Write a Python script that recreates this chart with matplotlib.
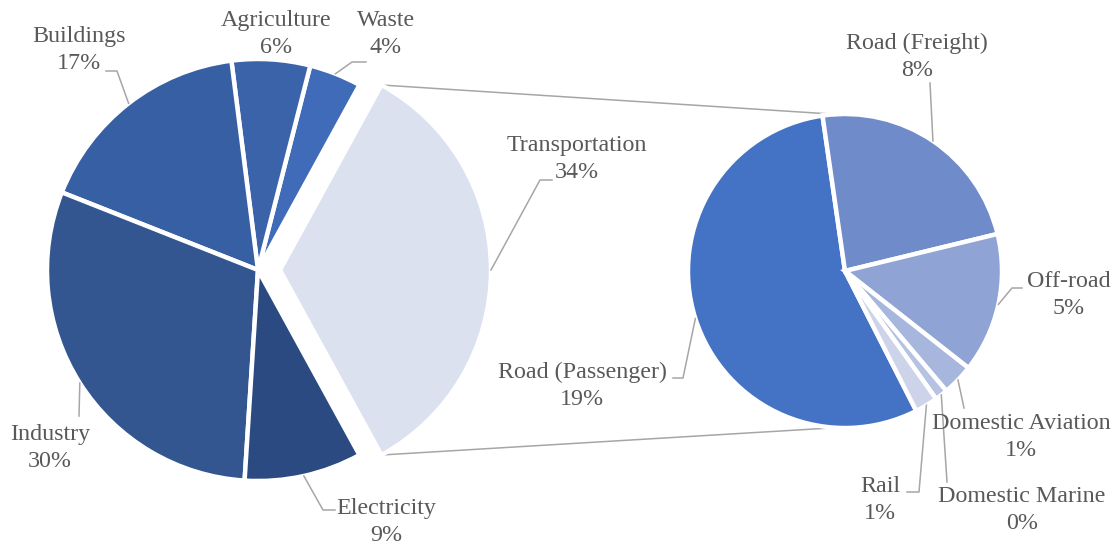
import numpy as np
import matplotlib.pyplot as plt

# main sectors (share of total emissions, %)
sectors = ["Transportation", "Waste", "Agriculture", "Buildings", "Industry", "Electricity"]
# transportation breakdown (share of total, %)
sub_names = ["Road (Passenger)", "Road (Freight)", "Off-road",
             "Domestic Aviation", "Domestic Marine", "Rail"]
sub_values = [18.8, 8.0, 4.9, 1.1, 0.45, 0.8]
sector_values = [sum(sub_values), 4, 6, 17, 30, 9]

sector_colors = ["#dce1f0", "#3f6bb9", "#3a63aa", "#375fa3", "#335690", "#2b4a81"]
sub_colors = ["#4472c4", "#6f8bca", "#8fa3d4", "#a7b6dc", "#b5c2e2", "#cdd4ea"]

W, H = 1115, 545
TXT = "#595959"
LINE = "#a6a6a6"


def px(x, y):
    # pixel coords measured from the top-left
    return x, H - y


fig = plt.figure(figsize=(W / 100, H / 100), dpi=100)
ax = fig.add_axes([0, 0, 1, 1])

r1, c1 = 211, px(258, 270)
r2, c2 = 157, px(845, 271)

total = sum(sector_values)
start1 = -sector_values[0] / total * 180
w1, _ = ax.pie(sector_values, radius=r1, center=c1, startangle=start1,
               colors=sector_colors, explode=[22, 0, 0, 0, 0, 0],
               wedgeprops=dict(edgecolor="white", linewidth=3.2), frame=True)
w2, _ = ax.pie(sub_values, radius=r2, center=c2, startangle=-63,
               counterclock=False, colors=sub_colors,
               wedgeprops=dict(edgecolor="white", linewidth=3.2), frame=True)
ax.set_xlim(0, W)
ax.set_ylim(0, H)
ax.set_aspect("equal")
ax.axis("off")


def edge_point(w):
    t = np.deg2rad((w.theta1 + w.theta2) / 2)
    cx, cy = w.center
    return cx + w.r * np.cos(t), cy + w.r * np.sin(t)


def corner(w, ang):
    t = np.deg2rad(ang)
    cx, cy = w.center
    return cx + w.r * np.cos(t), cy + w.r * np.sin(t)


# connector lines between the split slice and the second pie
tw = w1[0]
top = corner(tw, tw.theta2)
bot = corner(tw, tw.theta1)
for p, a in [(top, 93.5), (bot, -93.5)]:
    t = np.deg2rad(a)
    q = (c2[0] + r2 * np.cos(t), c2[1] + r2 * np.sin(t))
    ax.plot([p[0], q[0]], [p[1], q[1]], color=LINE, lw=1.1, zorder=0)

# label text positions and leader elbows (pixel coords from top-left)
sector_labels = {
    "Transportation": ((577, 159), [(552, 180), (540, 180)]),
    "Waste": ((386, 34), [(366, 62), (352, 62)]),
    "Agriculture": ((276, 34), None),
    "Buildings": ((79, 50), [(106, 71), (117, 71)]),
    "Industry": ((50, 448), [(79, 416)]),
    "Electricity": ((386, 522), [(335, 510), (323, 510)]),
}
sub_labels = {
    "Road (Passenger)": ((582, 386), [(673, 378), (683, 378)]),
    "Road (Freight)": ((917, 57), [(930, 83)]),
    "Off-road": ((1069, 295), [(1022, 288), (1012, 288)]),
    "Domestic Aviation": ((1021, 437), [(964, 408)]),
    "Domestic Marine": ((1022, 510), [(947, 482)]),
    "Rail": ((880, 500), [(907, 492), (919, 492)]),
}


def draw_labels(wedges, names, values, spec):
    for w, name, v in zip(wedges, names, values):
        (tx, ty), elbow = spec[name]
        ax.text(*px(tx, ty), f"{name}\n{v / total * 100:.0f}%", ha="center",
                va="center", multialignment="center", color=TXT, fontsize=17.3,
                family="Liberation Serif", linespacing=1.33)
        if elbow:
            pts = [px(*e) for e in elbow] + [edge_point(w)]
            xs, ys = zip(*pts)
            ax.plot(xs, ys, color=LINE, lw=1.1)


draw_labels(w1, sectors, sector_values, sector_labels)
draw_labels(w2, sub_names, sub_values, sub_labels)

fig.savefig("out.png", dpi=100, facecolor="white")
